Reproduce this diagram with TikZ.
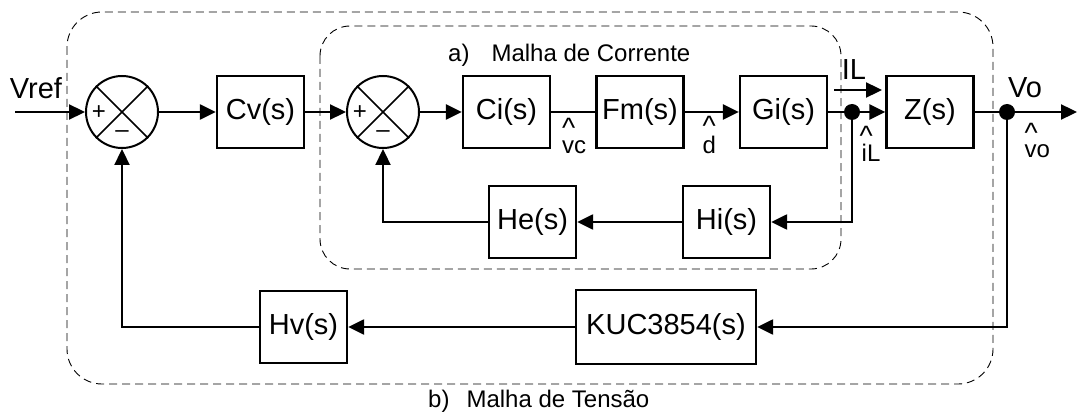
\documentclass[tikz,border=0pt]{standalone}
\usepackage{fontspec}
\setmainfont{Liberation Sans}
\usetikzlibrary{arrows.meta}
\newcommand{\hatlbl}[3]{\makebox[0pt][l]{\hspace*{#1pt}\raisebox{#2pt}{\fontsize{28}{30}\selectfont\textasciicircum}}#3}
\begin{document}
\begin{tikzpicture}[x=1pt,y=-1pt,
  blk/.style={draw,line width=2.3pt,minimum width=87pt,minimum height=72pt,inner sep=0pt,font=\fontsize{29}{32}\selectfont},
  sumc/.style={draw,circle,line width=2pt,minimum size=72pt,inner sep=0pt},
  conn/.style={line width=2.3pt},
  arr/.style={conn,-{Triangle[length=16pt,width=15pt]}},
  jdot/.style={circle,fill,minimum size=16pt,inner sep=0pt},
  frame/.style={dash pattern=on 8pt off 5pt,line width=0.9pt},
  lbl/.style={font=\fontsize{29}{32}\selectfont,inner sep=0pt},
  small/.style={font=\fontsize{24}{26}\selectfont,inner sep=0pt,anchor=base west},
  sgn/.style={font=\fontsize{24}{26}\selectfont,inner sep=0pt},
  ttl/.style={font=\fontsize{24}{26}\selectfont,inner sep=0pt,anchor=base west},
]
\useasboundingbox (0,0) rectangle (1078,414);

% frames
\draw[frame,rounded corners=35pt] (67,12) rectangle (993,384);
\draw[frame,rounded corners=30pt] (320,26) rectangle (841,269);
\node[ttl] (ta) at (448,62) {a)\hspace{22pt}Malha de Corrente};
\node[ttl] (tb) at (428,407) {b)\hspace{17pt}Malha de Tensão};

% summing junctions
\node[sumc] (s1) at (122,112) {};
\draw[line width=1.6pt] (s1.45) -- (s1.225) (s1.135) -- (s1.-45);
\node[sgn] (p1) at (99,113) {+};
\node[sgn] (m1) at (122,134) {\textendash};
\node[sumc] (s2) at (383,112) {};
\draw[line width=1.6pt] (s2.45) -- (s2.225) (s2.135) -- (s2.-45);
\node[sgn] (p2) at (360,113) {+};
\node[sgn] (m2) at (383,134) {\textendash};

% blocks
\node[blk] (cv) at (260.5,112) {Cv(s)};
\node[blk] (ci) at (506.5,112) {Ci(s)};
\node[blk] (fm) at (640,112) {Fm(s)};
\node[blk] (gi) at (783.5,112) {Gi(s)};
\node[blk] (z) at (930,112) {Z(s)};
\node[blk] (he) at (532.5,222) {He(s)};
\node[blk] (hi) at (726.5,222) {Hi(s)};
\node[blk] (hv) at (303.5,327) {Hv(s)};
\node[blk,minimum width=180pt,minimum height=74pt] (kuc) at (666,327) {KUC3854(s)};

% free ends
\coordinate (vin) at (15,112);
\coordinate (vout) at (1077,112);
\coordinate (ila) at (834,90);
\coordinate (ilb) at (882,90);

% connectors
\draw[arr] (vin) -- (s1.west);
\draw[arr] (s1.east) -- (cv.west);
\draw[arr] (cv.east) -- (s2.west);
\draw[arr] (s2.east) -- (ci.west);
\draw[conn] (ci.east) -- (fm.west);
\draw[arr] (fm.east) -- (gi.west);
\node[jdot] (d1) at (852,112) {};
\node[jdot] (d2) at (1007,112) {};
\draw[conn] (gi.east) -- (d1);
\draw[arr] (d1) -- (z.west);
\draw[conn] (z.east) -- (d2);
\draw[arr] (d2) -- (vout);
\draw[arr] (d1.center) |- (hi.east);
\draw[arr] (hi.west) -- (he.east);
\draw[arr] (he.west) -| (s2.south);
\draw[arr] (d2.center) |- (kuc.east);
\draw[arr] (kuc.west) -- (hv.east);
\draw[arr] (hv.west) -| (s1.south);
\draw[arr] (ila) -- (ilb);

% labels
\node[lbl,anchor=base] (vref) at (36,99) {Vref};
\node[lbl,anchor=base] (il) at (854,80) {IL};
\node[lbl,anchor=base] (vo) at (1025,98) {Vo};
\node[small] (vc) at (562,154) {\hatlbl{0}{17}{vc}};
\node[small] (dd) at (702.5,154) {\hatlbl{0}{18}{d}};
\node[small] (ilh) at (861.5,162) {\hatlbl{-2}{16}{iL}};
\node[small] (voh) at (1024.5,158) {\hatlbl{0}{15}{vo}};
\end{tikzpicture}
\end{document}
